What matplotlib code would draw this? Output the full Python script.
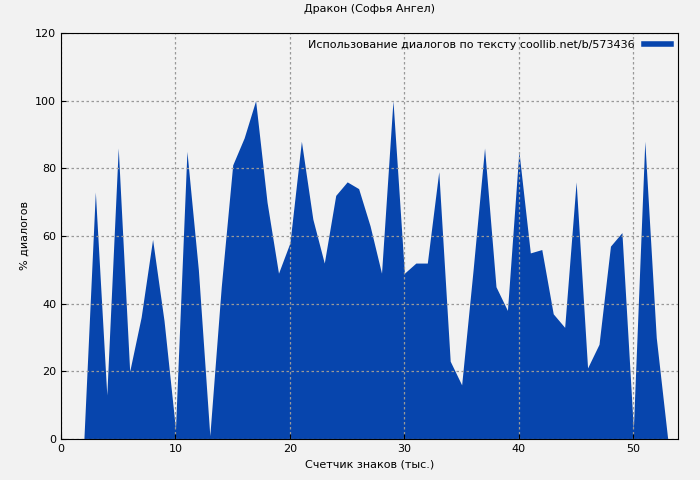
import matplotlib
matplotlib.use("Agg")
import matplotlib.pyplot as plt
from matplotlib.lines import Line2D

# thousands of characters vs percent of dialogue
x = list(range(2, 54))
pct = [0, 73, 13, 86, 20, 36, 59, 35, 3, 85, 50, 1, 45, 81, 89, 100, 70, 49, 58, 88,
       65, 52, 72, 76, 74, 63, 49, 100, 49, 52, 52, 79, 23, 16, 50, 86, 45, 38, 85,
       55, 56, 37, 33, 76, 21, 28, 57, 61, 3, 88, 30, 0]

color = "#0745ad"
fig = plt.figure(figsize=(7, 4.8), dpi=100, facecolor="#f2f2f2")
ax = fig.add_axes([61/700, 41/480, 617/700, 406/480])
ax.set_facecolor("#f2f2f2")
ax.fill_between(x, pct, 0, color=color, lw=0)
ax.set_xlim(0, 53.9)
ax.set_ylim(0, 120)
ax.set_xticks(range(0, 51, 10))
ax.set_yticks(range(0, 121, 20))
ax.grid(True, color="#999999", ls=(0, (2, 2)), lw=0.9)
ax.tick_params(labelsize=8, direction="in")
ax.set_xlabel("Счетчик знаков (тыс.)", fontsize=8)
ax.set_ylabel("% диалогов", fontsize=8)
ax.set_title("Дракон (Софья Ангел)", fontsize=8, pad=15)
ax.legend([Line2D([0], [0], color=color, lw=4)],
          ["Использование диалогов по тексту coollib.net/b/573436"],
          loc="upper right", fontsize=8, frameon=False, markerfirst=False,
          handlelength=2.5, borderaxespad=0.2)
fig.savefig("out.png", dpi=100, facecolor=fig.get_facecolor())
